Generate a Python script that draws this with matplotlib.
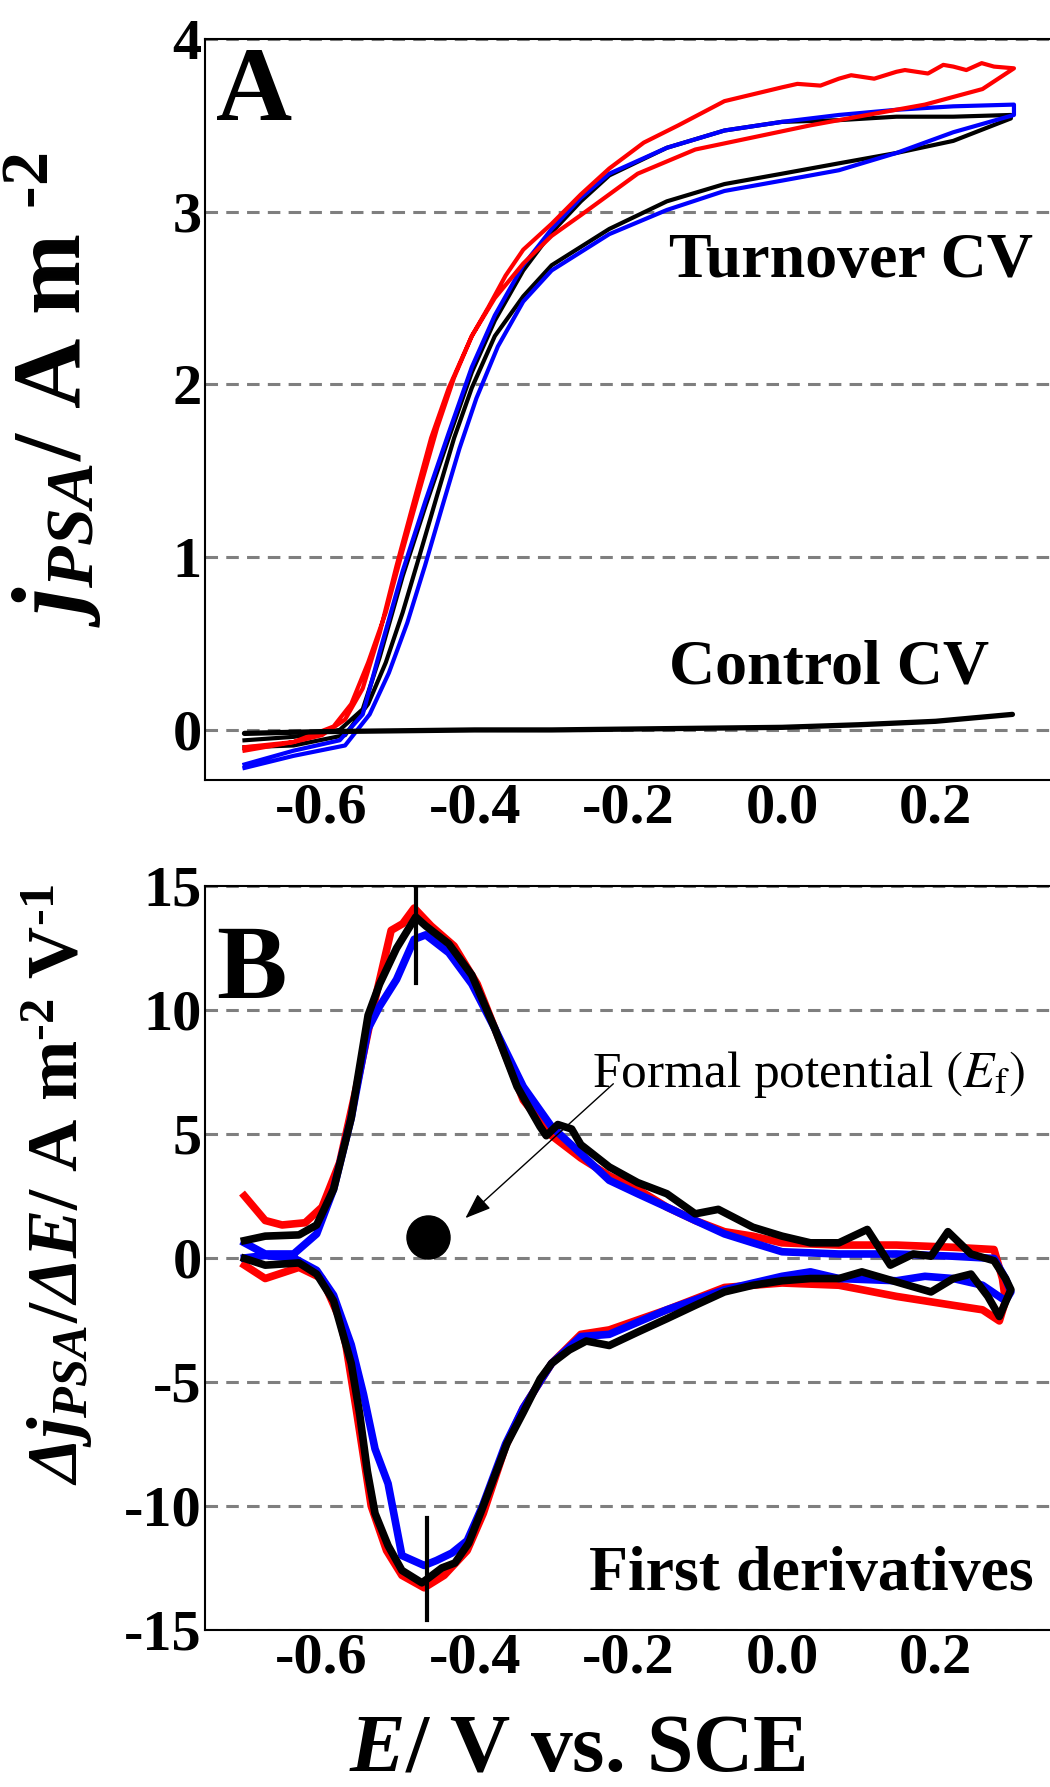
import numpy as np
import matplotlib.pyplot as plt
from matplotlib.ticker import FixedLocator, FormatStrFormatter

# ---------------- Panel A: turnover CVs (E / V vs SCE, j / A m-2) ----------------
# each loop: anodic scan -0.7 -> 0.3 V, then back to -0.7 V
E_red_A = [-0.700, -0.636, -0.584, -0.561, -0.539, -0.516, -0.494, -0.472, -0.449, -0.427,
           -0.404, -0.382, -0.360, -0.337, -0.300, -0.262, -0.225, -0.180, -0.135, -0.075,
           0.000, 0.020, 0.050, 0.074, 0.090, 0.120, 0.149, 0.160, 0.190, 0.210, 0.223,
           0.240, 0.260, 0.276, 0.302,
           0.261, 0.186, 0.111, 0.037, -0.038, -0.113, -0.188, -0.225, -0.262, -0.300,
           -0.337, -0.374, -0.404, -0.434, -0.457, -0.479, -0.502, -0.524, -0.546, -0.569,
           -0.599, -0.636, -0.700]
j_red_A = [-0.10, -0.07, 0.02, 0.15, 0.39, 0.68, 1.04, 1.39, 1.75, 2.04,
           2.28, 2.45, 2.63, 2.78, 2.93, 3.10, 3.25, 3.40, 3.50, 3.64,
           3.72, 3.74, 3.73, 3.77, 3.79, 3.77, 3.81, 3.82, 3.80, 3.85, 3.84,
           3.82, 3.86, 3.84, 3.83,
           3.71, 3.62, 3.56, 3.50, 3.43, 3.36, 3.22, 3.10, 2.98, 2.86,
           2.70, 2.50, 2.28, 1.98, 1.69, 1.33, 0.95, 0.56, 0.24, 0.06,
           -0.03, -0.07, -0.12]

E_blue_A = [-0.700, -0.636, -0.576, -0.546, -0.524, -0.494, -0.464, -0.434, -0.404, -0.374,
            -0.337, -0.300, -0.262, -0.225, -0.150, -0.075, 0.000, 0.074, 0.149, 0.223, 0.302,
            0.302, 0.223, 0.149, 0.074, 0.000, -0.075, -0.150, -0.225, -0.300, -0.337,
            -0.370, -0.398, -0.420, -0.442, -0.465, -0.488, -0.512, -0.537, -0.569, -0.636, -0.700]
j_blue_A = [-0.20, -0.12, -0.06, 0.09, 0.45, 0.92, 1.33, 1.72, 2.10, 2.40,
            2.69, 2.90, 3.08, 3.22, 3.37, 3.47, 3.52, 3.56, 3.59, 3.61, 3.62,
            3.56, 3.46, 3.34, 3.24, 3.18, 3.12, 3.01, 2.87, 2.66, 2.48,
            2.22, 1.92, 1.63, 1.30, 0.95, 0.62, 0.33, 0.09, -0.09, -0.15, -0.22]

E_black_A = [-0.700, -0.636, -0.576, -0.546, -0.524, -0.494, -0.464, -0.434, -0.404, -0.374,
             -0.337, -0.300, -0.262, -0.225, -0.150, -0.075, 0.000, 0.074, 0.149, 0.223, 0.298,
             0.298, 0.223, 0.149, 0.074, 0.000, -0.075, -0.150, -0.225, -0.300, -0.337,
             -0.374, -0.404, -0.427, -0.449, -0.472, -0.494, -0.516, -0.539, -0.569, -0.636, -0.700]
j_black_A = [-0.06, -0.04, 0.00, 0.12, 0.42, 0.89, 1.30, 1.69, 2.07, 2.37,
             2.66, 2.88, 3.06, 3.21, 3.37, 3.47, 3.52, 3.53, 3.55, 3.55, 3.56,
             3.54, 3.41, 3.34, 3.28, 3.22, 3.16, 3.06, 2.90, 2.69, 2.51,
             2.28, 1.98, 1.69, 1.36, 1.01, 0.68, 0.39, 0.15, -0.03, -0.09, -0.10]

# control CV (no biofilm)
E_ctrl = [-0.70, -0.60, -0.50, -0.40, -0.30, -0.20, -0.10, 0.00, 0.10, 0.20, 0.30]
j_ctrl = [-0.02, -0.01, -0.005, 0.0, 0.0, 0.005, 0.01, 0.015, 0.03, 0.05, 0.09]

# ---------------- Panel B: first derivatives (A m-2 V-1) ----------------
E_black_B = [-0.700, -0.673, -0.629, -0.606, -0.584, -0.561, -0.539, -0.524, -0.502, -0.477,
             -0.464, -0.434, -0.404, -0.374, -0.345, -0.315, -0.307, -0.292, -0.274, -0.262,
             -0.225, -0.188, -0.150, -0.113, -0.083, -0.038, 0.000, 0.037, 0.074, 0.111,
             0.141, 0.171, 0.194, 0.216, 0.246, 0.276, 0.291, 0.298,
             0.283, 0.268, 0.246, 0.223, 0.194, 0.164, 0.134, 0.104, 0.074, 0.037,
             0.000, -0.038, -0.075, -0.113, -0.150, -0.188, -0.225, -0.255, -0.277, -0.300,
             -0.315, -0.337, -0.358, -0.391, -0.408, -0.426, -0.443, -0.460, -0.469, -0.495,
             -0.513, -0.530, -0.540, -0.550, -0.561, -0.584, -0.606, -0.629, -0.673, -0.700]
dj_black_B = [0.70, 0.88, 0.93, 1.33, 2.77, 5.65, 9.79, 11.05, 12.49, 13.75,
              13.39, 12.67, 11.41, 9.25, 6.91, 5.29, 4.93, 5.38, 5.20, 4.57,
              3.67, 3.04, 2.59, 1.78, 1.96, 1.24, 0.88, 0.61, 0.61, 1.15,
              -0.29, 0.16, 0.07, 1.06, 0.16, -0.11, -0.83, -1.28,
              -2.36, -1.55, -0.65, -0.83, -1.37, -1.10, -0.83, -0.56, -0.83, -0.83,
              -0.92, -1.10, -1.37, -1.91, -2.45, -2.99, -3.53, -3.35, -3.71, -4.25,
              -4.88, -6.23, -7.47, -10.16, -11.5, -12.3, -12.5, -12.9, -13.1, -12.6,
              -11.6, -10.3, -8.6, -6.3, -4.25, -1.73, -0.65, -0.20, -0.29, -0.02]

E_red_B = [-0.700, -0.673, -0.651, -0.621, -0.599, -0.576, -0.554, -0.532, -0.509, -0.494,
           -0.479, -0.457, -0.427, -0.397, -0.367, -0.337, -0.300, -0.262, -0.225, -0.188,
           -0.150, -0.113, -0.075, -0.038, 0.000, 0.074, 0.149, 0.223, 0.276, 0.287, 0.291,
           0.283, 0.261, 0.223, 0.149, 0.074, 0.000, -0.075, -0.150, -0.225, -0.262,
           -0.300, -0.337, -0.360, -0.389, -0.410, -0.440, -0.466, -0.495, -0.515, -0.535,
           -0.545, -0.555, -0.568, -0.576, -0.599, -0.629, -0.673, -0.700]
dj_red_B = [2.50, 1.51, 1.33, 1.42, 2.05, 3.85, 6.91, 10.15, 13.21, 13.48,
            14.11, 13.39, 12.58, 11.05, 8.71, 6.37, 4.93, 4.03, 3.31, 2.77,
            2.05, 1.51, 1.06, 0.88, 0.61, 0.52, 0.52, 0.43, 0.34, -0.83, -1.73,
            -2.54, -2.09, -1.91, -1.55, -1.10, -1.01, -1.19, -2.09, -2.90, -3.08,
            -4.25, -6.05, -7.6, -10.3, -11.8, -12.8, -13.3, -12.8, -11.8, -10.0,
            -8.0, -6.0, -3.5, -2.45, -0.83, -0.38, -0.83, -0.29]

E_blue_B = [-0.700, -0.673, -0.636, -0.606, -0.584, -0.561, -0.539, -0.524, -0.502, -0.479,
            -0.464, -0.434, -0.404, -0.374, -0.337, -0.300, -0.262, -0.225, -0.188, -0.150,
            -0.113, -0.075, -0.038, 0.000, 0.074, 0.149, 0.223, 0.276, 0.291, 0.298,
            0.291, 0.261, 0.223, 0.186, 0.149, 0.074, 0.037, 0.000, -0.075, -0.150,
            -0.225, -0.262, -0.300, -0.337, -0.360, -0.390, -0.410, -0.430, -0.450, -0.466,
            -0.495, -0.513, -0.530, -0.545, -0.561, -0.584, -0.606, -0.636, -0.673, -0.700]
dj_blue_B = [0.61, 0.16, 0.16, 0.97, 2.77, 5.65, 9.25, 10.15, 11.23, 12.85,
             13.03, 12.31, 11.05, 9.25, 6.91, 5.29, 4.21, 3.13, 2.59, 2.05,
             1.51, 0.97, 0.61, 0.25, 0.16, 0.16, 0.07, -0.02, -0.83, -1.37,
             -1.73, -1.10, -0.83, -0.74, -0.92, -0.83, -0.56, -0.74, -1.28, -2.09,
             -3.08, -3.17, -4.25, -6.05, -7.5, -10.0, -11.4, -11.9, -12.2, -12.4,
             -12.0, -9.1, -7.7, -5.5, -3.5, -1.5, -0.5, 0.0, 0.1, 0.0]

# peak potentials and formal potential
E_peak_ox, dj_peak_ox = -0.477, (11.1, 15.0)
E_peak_red, dj_peak_red = -0.462, (-14.6, -10.5)
E_formal, dj_formal = -0.461, 0.85

xticks = [-0.6, -0.4, -0.2, 0.0, 0.2]
yticks_A = [0, 1, 2, 3, 4]
yticks_B = [-15, -10, -5, 0, 5, 10, 15]

plt.rcParams['font.family'] = 'Liberation Serif'
plt.rcParams['axes.unicode_minus'] = False
plt.rcParams['mathtext.fontset'] = 'custom'
plt.rcParams['mathtext.rm'] = 'Liberation Serif:italic:bold'
plt.rcParams['mathtext.it'] = 'Liberation Serif:italic:bold'
plt.rcParams['mathtext.bf'] = 'Liberation Serif:bold'

RED, BLUE, BLACK = '#ff0000', '#0000ff', '#000000'
GRID = dict(color='#7f7f7f', lw=2.2, ls=(0, (4.1, 2.7)), zorder=0)
BOLD = dict(fontweight='bold')

fig = plt.figure(figsize=(10.5, 17.87), dpi=100)
axA = fig.add_axes([0.1948, 0.5635, 0.8133, 0.4147])
axB = fig.add_axes([0.1948, 0.0879, 0.8133, 0.4163])

for ax, yt in ((axA, yticks_A), (axB, yticks_B)):
    ax.set_xlim(-0.752, 0.36)
    ax.xaxis.set_major_locator(FixedLocator(xticks))
    ax.xaxis.set_major_formatter(FormatStrFormatter('%.1f'))
    ax.yaxis.set_major_locator(FixedLocator(yt))
    ax.tick_params(length=0, labelsize=42, pad=2)
    plt.setp(ax.get_xticklabels() + ax.get_yticklabels(), fontweight='bold')
    for y in yt:
        ax.axhline(y, **GRID)
    for s in ax.spines.values():
        s.set_linewidth(1.5)

axA.set_ylim(-0.29, 4.0)
axB.set_ylim(-15, 15)

# Panel A
axA.plot(E_black_A, j_black_A, color=BLACK, lw=3, solid_joinstyle='round')
axA.plot(E_blue_A, j_blue_A, color=BLUE, lw=3, solid_joinstyle='round')
axA.plot(E_red_A, j_red_A, color=RED, lw=3, solid_joinstyle='round')
axA.plot(E_ctrl, j_ctrl, color=BLACK, lw=3.8, solid_capstyle='round')
axA.text(-0.147, 2.62, 'Turnover CV', fontsize=46, ha='left', va='baseline', **BOLD)
axA.text(-0.147, 0.27, 'Control CV', fontsize=46, ha='left', va='baseline', **BOLD)
axA.text(0.014, 0.891, 'A', transform=axA.transAxes, fontsize=76, ha='left',
         va='baseline', **BOLD)

# Panel B
axB.plot(E_red_B, dj_red_B, color=RED, lw=5.5, solid_joinstyle='round')
axB.plot(E_blue_B, dj_blue_B, color=BLUE, lw=5.5, solid_joinstyle='round')
axB.plot(E_black_B, dj_black_B, color=BLACK, lw=5.5, solid_joinstyle='round')
axB.plot([E_peak_ox, E_peak_ox], dj_peak_ox, color=BLACK, lw=3)
axB.plot([E_peak_red, E_peak_red], dj_peak_red, color=BLACK, lw=3)
axB.plot(E_formal, dj_formal, 'o', color=BLACK, ms=31)
axB.annotate('', xy=(-0.415, 1.53), xytext=(-0.217, 7.1),
             arrowprops=dict(arrowstyle='-|>,head_length=0.8,head_width=0.3',
                             mutation_scale=20, lw=1, color=BLACK))
axB.text(-0.247, 6.9, r'Formal potential $\left(E_{\mathrm{f}}\right)$', fontsize=37,
         fontweight='normal', math_fontfamily='stix', ha='left', va='baseline')
axB.text(-0.251, -13.4, 'First derivatives', fontsize=46, ha='left', va='baseline', **BOLD)
axB.text(0.014, 0.849, 'B', transform=axB.transAxes, fontsize=76, ha='left',
         va='baseline', **BOLD)

# axis titles (superscripts use a plain hyphen as in the original)
fig.text(52 / 1050, 1 - 390 / 1787, '$j_{PSA}$/ A m ${}^{\\mathbf{\u20102}}$', rotation=90,
         fontsize=70, ha='center', va='center', **BOLD)
fig.text(57 / 1050, 1 - 1185 / 1787,
         '$\\Delta j_{PSA}$/$\\Delta E$/ A m$^{\\mathbf{\u20102}}$ V$^{\\mathbf{\u20101}}$',
         rotation=90, fontsize=52, ha='center', va='center', **BOLD)
fig.text(577 / 1050, 1 - 1770 / 1787, r'$E$/ V vs. SCE', fontsize=60,
         ha='center', va='baseline', **BOLD)

fig.savefig('out.png', dpi=100)
